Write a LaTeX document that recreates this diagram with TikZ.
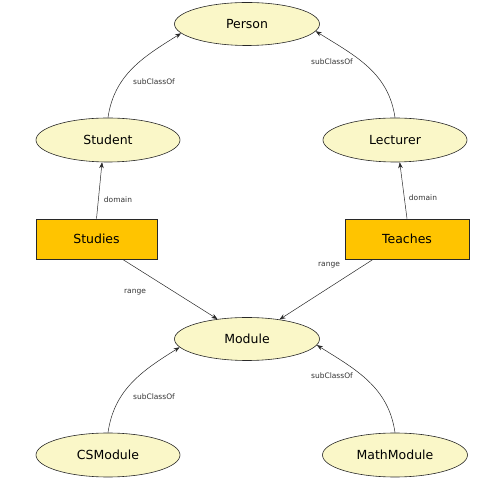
\documentclass[tikz,border=0pt]{standalone}
\usepackage{fontspec}
\setmainfont{DejaVu Sans}
\usetikzlibrary{shapes.geometric,arrows.meta,calc}
\definecolor{classfill}{RGB}{250,247,200}
\definecolor{propfill}{RGB}{255,196,0}
\definecolor{edgecol}{RGB}{40,40,40}
\tikzset{
  cls/.style={ellipse,draw=edgecol,line width=0.6pt,fill=classfill,minimum width=145pt,minimum height=43pt,inner sep=0pt,font=\fontsize{12.5}{14}\selectfont},
  prop/.style={rectangle,draw=edgecol,line width=0.6pt,fill=propfill,minimum height=40pt,inner sep=0pt,font=\fontsize{12.5}{14}\selectfont},
  rel/.style={draw=edgecol,line width=0.5pt,-{Stealth[length=6pt,width=4.5pt]}},
  lbl/.style={font=\fontsize{7.5}{9}\selectfont,text=black!80,inner sep=0pt}
}
\begin{document}
\begin{tikzpicture}[x=1pt,y=1pt]
\useasboundingbox (0,0) rectangle (486,487);
\node[cls] (person) at (247,463) {Person};
\node[cls,minimum width=144pt,minimum height=44pt] (student) at (108,347) {Student};
\node[cls,minimum width=144pt,minimum height=44pt] (lecturer) at (395,347) {Lecturer};
\node[prop,minimum width=121pt] (studies) at (96.5,248) {Studies};
\node[prop,minimum width=124pt] (teaches) at (407,248) {Teaches};
\node[cls] (module) at (247,148) {Module};
\node[cls,minimum width=144pt,minimum height=44pt] (csmodule) at (108,32) {CSModule};
\node[cls,minimum width=145pt,minimum height=44pt] (mathmodule) at (395,32) {MathModule};

\draw[rel] (student.north) to[out=82,in=212] (person.188);
\draw[rel] (lecturer.north) to[out=98,in=-32] (person.354);
\draw[rel] (studies.north) -- (student.255);
\draw[rel] (teaches.north) -- (lecturer.282);
\draw[rel] (studies.322) -- (module.146);
\draw[rel] (teaches.211) -- (module.31);
\draw[rel] (csmodule.north) to[out=82,in=212] (module.187);
\draw[rel] (mathmodule.north) to[out=98,in=-32] (module.355);

\node[lbl] (l1) at (154,405) {subClassOf};
\node[lbl] (l2) at (332,425) {subClassOf};
\node[lbl] (l3) at (118,287) {domain};
\node[lbl] (l4) at (423,289) {domain};
\node[lbl] (l5) at (135,195) {range};
\node[lbl] (l6) at (329,222) {range};
\node[lbl] (l7) at (154,90) {subClassOf};
\node[lbl] (l8) at (332,111) {subClassOf};
\end{tikzpicture}
\end{document}
